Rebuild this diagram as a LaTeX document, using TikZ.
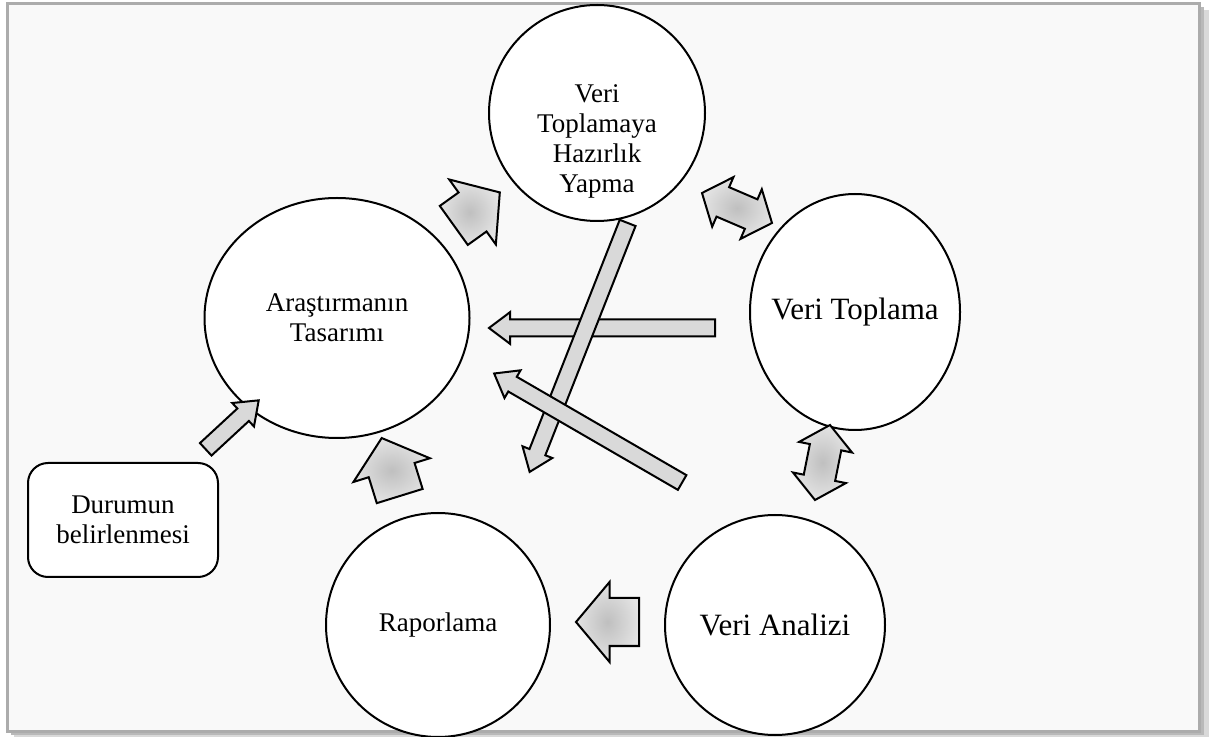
\documentclass[tikz,border=0pt]{standalone}
\usepackage{fontspec}
\setmainfont{Liberation Serif}
\usepackage{tikz}
\usetikzlibrary{shapes.geometric,shapes.arrows,calc}

\tikzset{
    stage/.style={draw=black, line width=1pt, fill=white, align=center, inner sep=0pt,
        font=\fontsize{13.5}{15}\selectfont},
    bigtext/.style={font=\fontsize{15.5}{17}\selectfont},
    lbl/.style={align=center, font=\fontsize{13.5}{15}\selectfont},
    thinarrow/.style={single arrow, draw=black, line width=1pt, fill=gray!30, inner xsep=0pt,
        inner ysep=3.75pt, single arrow head extend=3.75pt, single arrow tip angle=74},
    bigarrow/.style={single arrow, draw=black, line width=1pt, inner xsep=0pt,
        inner ysep=11.5pt, single arrow head extend=8pt, single arrow tip angle=100,
        shading=radial, inner color=gray!50, outer color=gray!22},
    twoarrow/.style={double arrow, draw=black, line width=1pt, inner xsep=0pt,
        inner ysep=7.5pt, double arrow head extend=5.5pt, double arrow tip angle=100,
        shading=radial, inner color=gray!50, outer color=gray!22}
}

% single arrow shape laid from tail to tip
\newcommand{\arrowfromto}[3]{%
    \path let \p1=($(#3)-(#2)$), \n1={atan2(\y1,\x1)}, \n2={veclen(\x1,\y1)} in
        node[#1, rotate=\n1, minimum height=\n2, anchor=tail] at (#2) {};}
% double arrow shape laid between two points
\newcommand{\arrowboth}[3]{%
    \path let \p1=($(#3)-(#2)$), \n1={atan2(\y1,\x1)}, \n2={veclen(\x1,\y1)} in
        node[#1, rotate=\n1, minimum height=\n2, anchor=center] at ($(#2)!0.5!(#3)$) {};}

\begin{document}
\begin{tikzpicture}[x=0.5pt, y=-0.5pt]
    \useasboundingbox (0,0) rectangle (1211,737);

    % Frame with shadow
    \fill[gray!30] (14,10) rectangle (1209,737);
    \fill[gray!55] (11,7) rectangle (1204,735);
    \draw[gray!65, line width=1.5pt, fill=gray!5] (7,4) rectangle (1199,731);

    % Stages
    \node[stage, circle, minimum size=108pt] (prep) at (597,113) {};
    \node[lbl] (preptext) at (597,141) {Veri\\Toplamaya\\Hazırlık\\Yapma};
    \node[stage, ellipse, minimum width=132.5pt, minimum height=120pt] (design) at (337,318) {Araştırmanın\\Tasarımı};
    \node[stage, ellipse, minimum width=105pt, minimum height=118pt,
        label={[bigtext]center:Veri Toplama}] (collect) at (855,312) {};
    \node[stage, circle, minimum size=110pt,
        label={[bigtext]center:Veri Analizi}] (analysis) at (775,625) {};
    \node[stage, circle, minimum size=112pt] (report) at (438,625) {Raporlama};
    \node[stage, rounded corners=10pt, minimum width=95pt, minimum height=57pt] (situation) at (123,520) {Durumun\\belirlenmesi};

    % Ends of the thin arrows
    \coordinate (s1) at (205,450);   \coordinate (e1) at (258,401);
    \coordinate (s2) at (716,328);   \coordinate (e2) at (490,328);
    \coordinate (s3) at (628,222);   \coordinate (e3) at (530,471);
    \coordinate (s4) at (683,483);   \coordinate (e4) at (495,374);

    \arrowfromto{thinarrow}{s1}{e1}
    \arrowfromto{thinarrow}{s2}{e2}
    \arrowfromto{thinarrow}{s3}{e3}
    \arrowfromto{thinarrow}{s4}{e4}

    % Cycle arrows
    \coordinate (a1) at (453,226);   \coordinate (b1) at (499,193);
    \coordinate (a2) at (702,193);   \coordinate (b2) at (772,223);
    \coordinate (a3) at (815,500);   \coordinate (b3) at (830,425);
    \coordinate (a4) at (640,622);   \coordinate (b4) at (577,622);
    \coordinate (a5) at (400,497);   \coordinate (b5) at (382,439);

    \arrowfromto{bigarrow}{a1}{b1}
    \arrowboth{twoarrow}{a2}{b2}
    \arrowboth{twoarrow}{a3}{b3}
    \arrowfromto{bigarrow}{a4}{b4}
    \arrowfromto{bigarrow}{a5}{b5}
\end{tikzpicture}
\end{document}
